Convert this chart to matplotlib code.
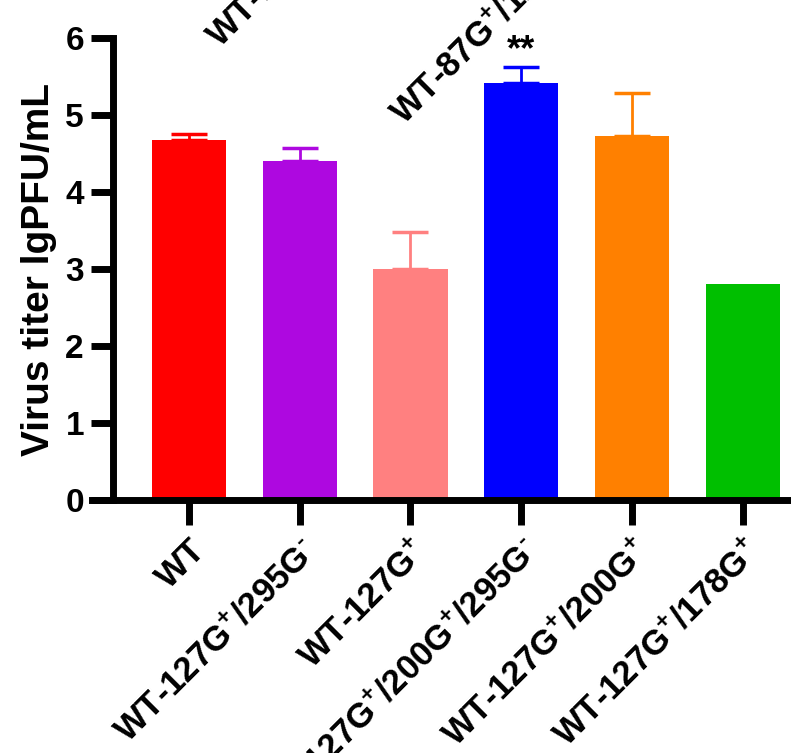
import matplotlib
matplotlib.use("Agg")
import matplotlib.pyplot as plt

plt.rcParams['font.family'] = ['Liberation Sans', 'DejaVu Sans']
plt.rcParams['font.weight'] = 'bold'
plt.rcParams['mathtext.fontset'] = 'custom'
plt.rcParams['mathtext.rm'] = 'Liberation Sans:bold'
plt.rcParams['mathtext.bf'] = 'Liberation Sans:bold'
plt.rcParams['mathtext.default'] = 'bf'

P = '$^{+}$'
M = r'$^{\text{-}}$'
labels = ['WT',
          'WT-127G' + P + '/295G' + M,
          'WT-127G' + P,
          'WT-127G' + P + '/200G' + P + '/295G' + M,
          'WT-127G' + P + '/200G' + P,
          'WT-127G' + P + '/178G' + P]
means = [4.68, 4.40, 3.00, 5.41, 4.73, 2.81]
errs = [0.07, 0.17, 0.48, 0.22, 0.55, 0.0]
colors = ['#ff0000', '#ae08e0', '#ff8080', '#0000ff', '#ff8000', '#00bf00']
stars = ['', '', '', '**', '', '']

fig = plt.figure(figsize=(7.91, 7.53), dpi=100)
ax = fig.add_axes([0.143, 0.336, 0.895, 0.6135])

x = range(len(labels))
ax.bar(x, means, width=0.667, color=colors, zorder=2)
for i in x:
    if errs[i] > 0:
        ax.errorbar(i, means[i], yerr=[[0], [errs[i]]], fmt='none',
                    ecolor=colors[i], elinewidth=2, capsize=13, capthick=2.5, zorder=1)
    if stars[i]:
        ax.text(i, means[i] + errs[i] - 0.02, stars[i], ha='center', va='bottom',
                fontsize=26, fontweight='bold')

ax.set_xlim(-0.68, 5.7)
ax.set_ylim(0, 6)
ax.set_yticks(range(7))
ax.set_xticks(list(x))
ax.set_xticklabels(labels, rotation=45, ha='right', va='top', rotation_mode='anchor',
                   fontsize=25, fontweight='bold')
for t in ax.get_yticklabels():
    t.set_fontsize(24)
    t.set_fontweight('bold')
ax.set_ylabel('Virus titer lgPFU/mL', fontsize=28, fontweight='bold', labelpad=6)

for s in ['top', 'right']:
    ax.spines[s].set_visible(False)
for s in ['left', 'bottom']:
    ax.spines[s].set_linewidth(5)
ax.spines['bottom'].set_bounds(-0.87, 5.7)
ax.tick_params(axis='both', width=5, length=16, pad=5)
ax.tick_params(axis='x', length=18, pad=6)

# stray labels from the panel above, cut by the top edge
fig.text(224 / 791, 1 - 53 / 753, 'WT-127G' + P + '/295G' + M, rotation=45,
         ha='left', va='bottom', rotation_mode='anchor', fontsize=25, fontweight='bold')
fig.text(408 / 791, 1 - 130 / 753, 'WT-87G' + P + '/127G' + P, rotation=45,
         ha='left', va='bottom', rotation_mode='anchor', fontsize=25, fontweight='bold')

fig.savefig('out.png', dpi=100)
